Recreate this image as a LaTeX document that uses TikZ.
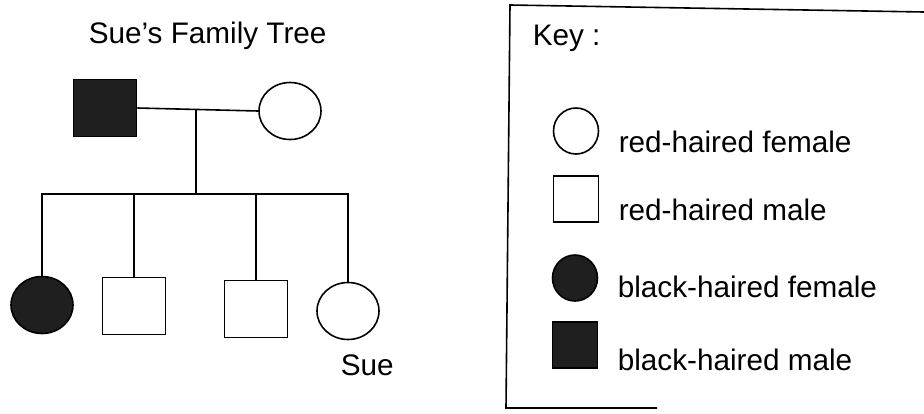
\documentclass[tikz,border=0pt]{standalone}
\usepackage{fontspec}
\setmainfont{Liberation Sans}
\usetikzlibrary{shapes.geometric}

\begin{document}
\begin{tikzpicture}[
    x=1pt, y=-1pt,
    line width=1.6pt,
    male/.style={rectangle, draw=black, fill=white, minimum width=63pt, minimum height=57pt, inner sep=0pt},
    female/.style={ellipse, draw=black, fill=white, minimum width=62pt, minimum height=57pt, inner sep=0pt},
    dark/.style={fill=black!88},
    keysym/.style={minimum width=45pt, minimum height=46pt},
    label/.style={anchor=base west, inner sep=0pt, font=\fontsize{29.7}{34}\selectfont}
]
\useasboundingbox (0,0) rectangle (924,413);

% family tree
\node[label] (title) at (88,43) {Sue's Family Tree};

\node[male, dark] (dad) at (105,108) {};
\node[female] (mum) at (290,111) {};

\node[female, dark] (kid1) at (42,305) {};
\node[male] (kid2) at (134,306) {};
\node[male] (kid3) at (256,309) {};
\node[female] (sue) at (348,311) {};
\node[label] (suename) at (340,375) {Sue};

\coordinate (wed) at (196,110);
\coordinate (bar) at (196,194);

\draw (dad.east) -- (mum.west);
\draw (wed) -- (bar);
\draw (kid1.north) |- (bar) -| (sue.north);
\draw (kid2.north) -- (kid2.north |- bar);
\draw (kid3.north) -- (kid3.north |- bar);

% key
\draw (657,408) -- (506,408) -- (510,5) -- (924,12);
\node[label] (keytitle) at (532,45) {Key :};

\node[female, keysym] (k1) at (576,131) {};
\node[label] (k1text) at (618,152) {red-haired female};
\node[male, keysym] (k2) at (576,199) {};
\node[label] (k2text) at (618,220) {red-haired male};
\node[female, dark, keysym] (k3) at (575,278) {};
\node[label] (k3text) at (617,297) {black-haired female};
\node[male, dark, keysym] (k4) at (575,345) {};
\node[label] (k4text) at (617,370) {black-haired male};

\end{tikzpicture}
\end{document}
